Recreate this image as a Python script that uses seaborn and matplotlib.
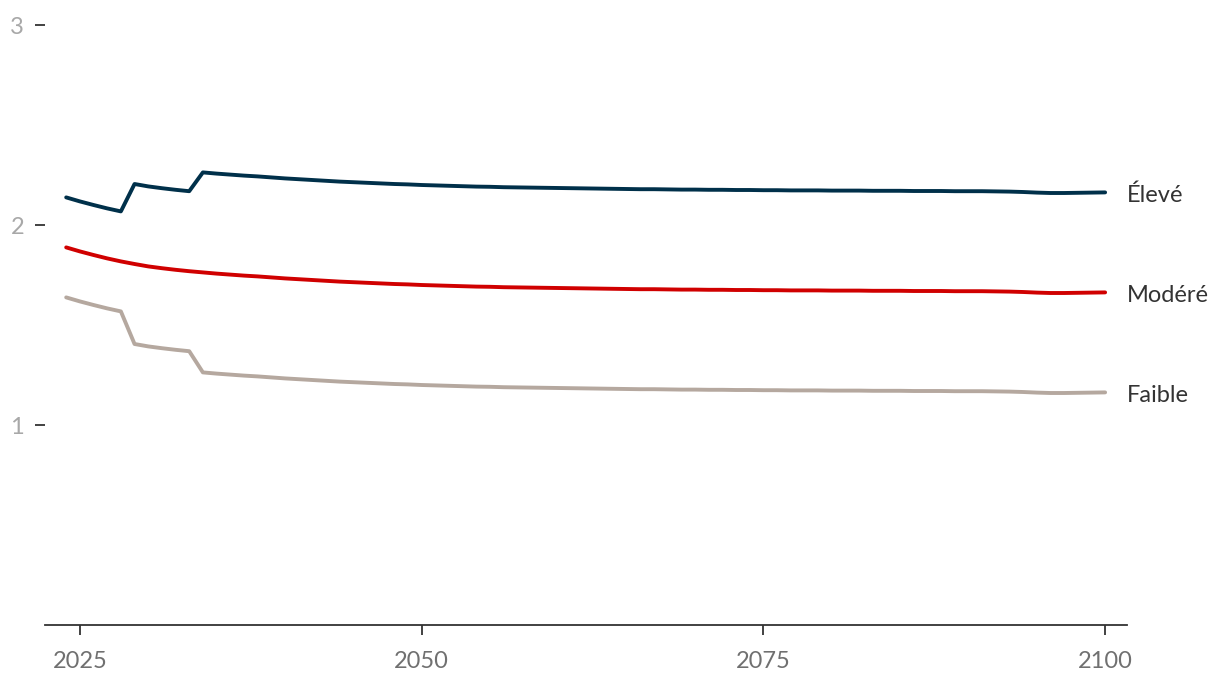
#!/usr/bin/env python3
# Fertility projections: three scenarios, 2024-2100

import numpy as np
import pandas as pd
import matplotlib
matplotlib.use("Agg")
import matplotlib.pyplot as plt
import seaborn as sns

# Years of the projection
years = list(range(2024, 2101))

# Values (one per year)
eleve = [2.138, 2.118, 2.100, 2.083, 2.068, 2.205, 2.193, 2.184, 2.176, 2.169,
         2.263, 2.257, 2.252, 2.247, 2.243, 2.238, 2.233, 2.229, 2.225, 2.221,
         2.217, 2.214, 2.211, 2.208, 2.205, 2.203, 2.200, 2.198, 2.196, 2.194,
         2.192, 2.191, 2.189, 2.188, 2.187, 2.186, 2.185, 2.184, 2.183, 2.182,
         2.181, 2.180, 2.179, 2.179, 2.178, 2.177, 2.177, 2.176, 2.176, 2.175,
         2.175, 2.174, 2.174, 2.173, 2.173, 2.173, 2.172, 2.172, 2.172, 2.171,
         2.171, 2.171, 2.170, 2.170, 2.170, 2.169, 2.169, 2.169, 2.168, 2.167,
         2.165, 2.162, 2.160, 2.160, 2.161, 2.162, 2.163]

modere = [1.888, 1.868, 1.850, 1.833, 1.818, 1.805, 1.793, 1.784, 1.776, 1.769,
          1.763, 1.757, 1.752, 1.747, 1.743, 1.738, 1.733, 1.729, 1.725, 1.721,
          1.717, 1.714, 1.711, 1.708, 1.705, 1.703, 1.700, 1.698, 1.696, 1.694,
          1.692, 1.691, 1.689, 1.688, 1.687, 1.686, 1.685, 1.684, 1.683, 1.682,
          1.681, 1.680, 1.679, 1.679, 1.678, 1.677, 1.677, 1.676, 1.676, 1.675,
          1.675, 1.674, 1.674, 1.673, 1.673, 1.673, 1.672, 1.672, 1.672, 1.671,
          1.671, 1.671, 1.670, 1.670, 1.670, 1.669, 1.669, 1.669, 1.668, 1.667,
          1.665, 1.662, 1.660, 1.660, 1.661, 1.662, 1.663]

faible = [1.638, 1.618, 1.600, 1.583, 1.568, 1.405, 1.393, 1.384, 1.376, 1.369,
          1.263, 1.257, 1.252, 1.247, 1.243, 1.238, 1.233, 1.229, 1.225, 1.221,
          1.217, 1.214, 1.211, 1.208, 1.205, 1.203, 1.200, 1.198, 1.196, 1.194,
          1.192, 1.191, 1.189, 1.188, 1.187, 1.186, 1.185, 1.184, 1.183, 1.182,
          1.181, 1.180, 1.179, 1.179, 1.178, 1.177, 1.177, 1.176, 1.176, 1.175,
          1.175, 1.174, 1.174, 1.173, 1.173, 1.173, 1.172, 1.172, 1.172, 1.171,
          1.171, 1.171, 1.170, 1.170, 1.170, 1.169, 1.169, 1.169, 1.168, 1.167,
          1.165, 1.162, 1.160, 1.160, 1.161, 1.162, 1.163]

scenarios = ["Élevé", "Modéré", "Faible"]
colors = ["#00304a", "#d00000", "#b5a89f"]

x_ticks = [2025, 2050, 2075, 2100]
y_ticks = [1, 2, 3]

sns.set_theme(style="white")
plt.rcParams["font.family"] = ["Lato", "DejaVu Sans"]

df = pd.DataFrame({
    "year": years * 3,
    "value": eleve + modere + faible,
    "scenario": np.repeat(scenarios, len(years)),
})

fig = plt.figure(figsize=(12.2, 6.86), dpi=100)
ax = fig.add_axes([45 / 1220, 61 / 686, (1127 - 45) / 1220, 600 / 686])

sns.lineplot(data=df, x="year", y="value", hue="scenario", hue_order=scenarios,
             palette=colors, linewidth=2.8, ax=ax, legend=False)

ax.set_xlim(2022.45, 2101.6)
ax.set_ylim(0, 3)
ax.set_xticks(x_ticks)
ax.set_yticks(y_ticks)
ax.set_xlabel("")
ax.set_ylabel("")

for side in ("top", "right", "left"):
    ax.spines[side].set_visible(False)
ax.spines["bottom"].set_color("#333333")
ax.spines["bottom"].set_linewidth(1.3)

ax.tick_params(axis="x", direction="out", length=7, width=1.3, color="#333333",
               labelsize=17, labelcolor="#707070", pad=12, bottom=True)
ax.tick_params(axis="y", direction="out", length=7, width=1.3, color="#333333",
               labelsize=17, labelcolor="#a8a8a8", pad=8, left=True)

# End labels next to each line
for name, vals in zip(scenarios, [eleve, modere, faible]):
    ax.annotate(name, xy=(years[-1], vals[-1]), xytext=(16, -2),
                textcoords="offset points", va="center", ha="left",
                fontsize=17, color="#333333", annotation_clip=False)

fig.savefig("out.png", dpi=100)
plt.close()
